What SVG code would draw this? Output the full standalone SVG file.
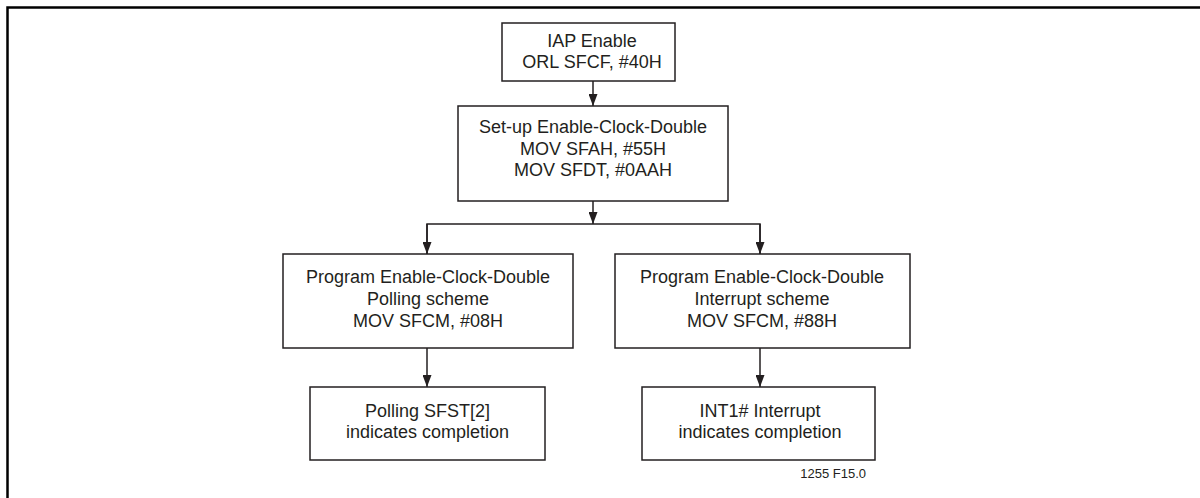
<svg xmlns="http://www.w3.org/2000/svg" width="1200" height="498" viewBox="0 0 1200 498">
<defs>
<style>
.box{fill:#fff;stroke:#231f20;stroke-width:1.5}
.t{font-family:"Liberation Sans",Arial,sans-serif;font-size:18px;fill:#231f20;text-anchor:middle}
.c{fill:none;stroke:#231f20;stroke-width:1.5}
.frame{fill:none;stroke:#000;stroke-width:2.5}
</style>
<marker id="ah" viewBox="0 0 12 9" refX="12" refY="4.5" markerWidth="12" markerHeight="9" markerUnits="userSpaceOnUse" orient="auto">
<path d="M0,0 L12,4.5 L0,9 Z" fill="#231f20"/>
</marker>
</defs>
<rect width="1200" height="498" fill="#fff"/>
<path class="frame" d="M7.5,498 V7.5 H1200"/>
<g id="connectors">
<line class="c" x1="593" y1="81" x2="593" y2="106" marker-end="url(#ah)"/>
<line class="c" x1="593" y1="201" x2="593" y2="224" marker-end="url(#ah)"/>
<path class="c" d="M427,254 V224 H760 V254"/>
<line class="c" x1="427" y1="224" x2="427" y2="254" marker-end="url(#ah)"/>
<line class="c" x1="760" y1="224" x2="760" y2="254" marker-end="url(#ah)"/>
<line class="c" x1="427" y1="348" x2="427" y2="387" marker-end="url(#ah)"/>
<line class="c" x1="760" y1="348" x2="760" y2="387" marker-end="url(#ah)"/>
</g>
<g id="n1">
<rect class="box" x="502" y="23" width="173" height="58"/>
<text class="t" x="592" y="47">IAP Enable</text>
<text class="t" x="592" y="68">ORL SFCF, #40H</text>
</g>
<g id="n2">
<rect class="box" x="458" y="106" width="270" height="95"/>
<text class="t" x="593" y="133">Set-up Enable-Clock-Double</text>
<text class="t" x="593" y="154.5">MOV SFAH, #55H</text>
<text class="t" x="593" y="176">MOV SFDT, #0AAH</text>
</g>
<g id="n3">
<rect class="box" x="283" y="254" width="290" height="94"/>
<text class="t" x="428" y="283">Program Enable-Clock-Double</text>
<text class="t" x="428" y="305">Polling scheme</text>
<text class="t" x="428" y="327">MOV SFCM, #08H</text>
</g>
<g id="n4">
<rect class="box" x="615" y="254" width="295" height="94"/>
<text class="t" x="762" y="283">Program Enable-Clock-Double</text>
<text class="t" x="762" y="305">Interrupt scheme</text>
<text class="t" x="762" y="327">MOV SFCM, #88H</text>
</g>
<g id="n5">
<rect class="box" x="310" y="387" width="235" height="73"/>
<text class="t" x="427.5" y="417">Polling SFST[2]</text>
<text class="t" x="427.5" y="438">indicates completion</text>
</g>
<g id="n6">
<rect class="box" x="642" y="387" width="233" height="73"/>
<text class="t" x="760" y="417">INT1# Interrupt</text>
<text class="t" x="760" y="438">indicates completion</text>
</g>
<text x="866" y="478" style="font-family:'Liberation Sans',Arial,sans-serif;font-size:13px;fill:#231f20;text-anchor:end">1255 F15.0</text>
</svg>
